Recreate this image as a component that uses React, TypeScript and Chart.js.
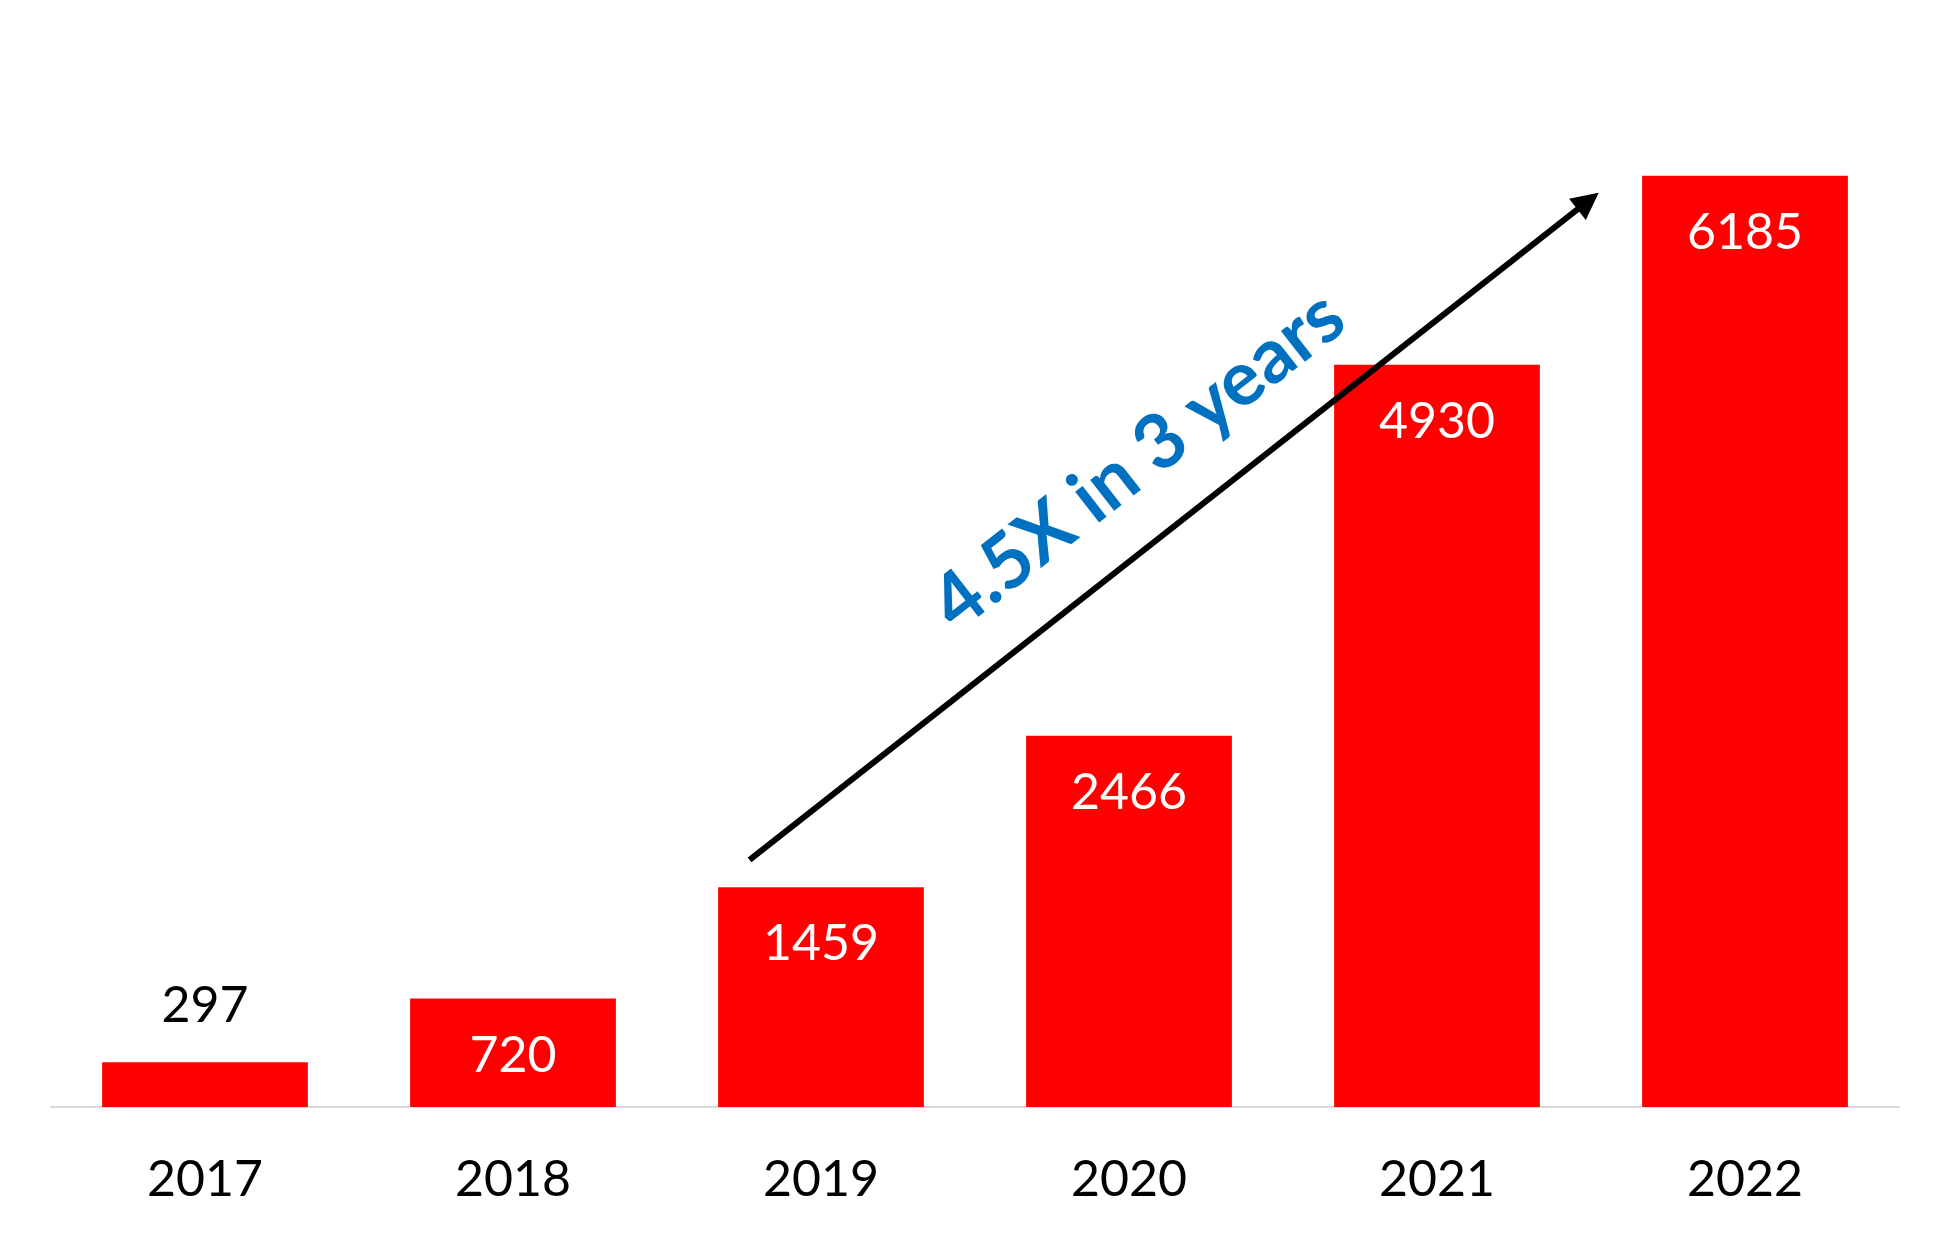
import React, { useEffect, useRef } from "react";
import { Chart, registerables } from "chart.js";

Chart.register(...registerables);

const categories = ["2017", "2018", "2019", "2020", "2021", "2022"];
const values = [297, 720, 1459, 2466, 4930, 6185];
const labelInside = [false, true, true, true, true, true];
const arrowStart = { index: 1.768, value: 1641 };
const arrowEnd = { index: 4.525, value: 6072 };
const annotationText = "4.5X in 3 years";
const annotationPos = { index: 3.03, value: 4292 };

const FONT = "Lato, 'Open Sans', sans-serif";

const overlayPlugin = {
  id: "overlay",
  afterDatasetsDraw(chart: any) {
    const ctx = chart.ctx;
    const meta = chart.getDatasetMeta(0);
    const xs = chart.scales.x;
    const ys = chart.scales.y;
    ctx.save();
    ctx.font = `50px ${FONT}`;
    ctx.textAlign = "center";
    ctx.textBaseline = "middle";
    meta.data.forEach((bar: any, i: number) => {
      const inside = labelInside[i];
      ctx.fillStyle = inside ? "#ffffff" : "#000000";
      const y = inside ? bar.y + 57 : bar.y - 56;
      ctx.fillText(String(values[i]), bar.x, y);
    });
    // arrow
    const pxPerIdx = xs.getPixelForValue(1) - xs.getPixelForValue(0);
    const toX = (idx: number) => xs.getPixelForValue(0) + idx * pxPerIdx;
    const x1 = toX(arrowStart.index);
    const y1 = ys.getPixelForValue(arrowStart.value);
    const x2 = toX(arrowEnd.index);
    const y2 = ys.getPixelForValue(arrowEnd.value);
    const ang = Math.atan2(y2 - y1, x2 - x1);
    const headLen = 27;
    const headW = 13.5;
    const bx = x2 - headLen * Math.cos(ang);
    const by = y2 - headLen * Math.sin(ang);
    ctx.strokeStyle = "#000000";
    ctx.lineWidth = 6;
    ctx.beginPath();
    ctx.moveTo(x1, y1);
    ctx.lineTo(bx + 2 * Math.cos(ang), by + 2 * Math.sin(ang));
    ctx.stroke();
    ctx.fillStyle = "#000000";
    ctx.beginPath();
    ctx.moveTo(x2, y2);
    ctx.lineTo(bx + headW * Math.sin(ang), by - headW * Math.cos(ang));
    ctx.lineTo(bx - headW * Math.sin(ang), by + headW * Math.cos(ang));
    ctx.closePath();
    ctx.fill();
    // annotation text
    const tx = toX(annotationPos.index);
    const ty = ys.getPixelForValue(annotationPos.value);
    ctx.translate(tx, ty);
    ctx.rotate((-38 * Math.PI) / 180);
    ctx.font = `bold 76px ${FONT}`;
    ctx.fillStyle = "#0070C0";
    ctx.textAlign = "center";
    ctx.textBaseline = "middle";
    ctx.fillText(annotationText, 0, 0);
    ctx.restore();
  },
};

export default function App() {
  const canvasRef = useRef<HTMLCanvasElement | null>(null);

  useEffect(() => {
    if (!canvasRef.current) return;
    const chart = new Chart(canvasRef.current, {
      type: "bar",
      data: {
        labels: categories,
        datasets: [
          {
            data: values,
            backgroundColor: "#FF0000",
            borderWidth: 0,
            categoryPercentage: 1,
            barPercentage: 0.668,
          },
        ],
      },
      options: {
        responsive: false,
        animation: false,
        layout: { padding: { left: 51, right: 53, top: 53, bottom: 0 } },
        plugins: {
          legend: { display: false },
          tooltip: { enabled: false },
        },
        scales: {
          x: {
            grid: { display: false, drawTicks: false },
            border: { display: true, color: "#d9d9d9", width: 2 },
            ticks: {
              color: "#000000",
              font: { family: FONT, size: 50 },
              padding: 43,
            },
            afterFit: (scale: any) => {
              scale.height = 135;
            },
          },
          y: {
            display: false,
            min: 0,
            max: 7000,
          },
        },
      },
      plugins: [overlayPlugin],
    });
    return () => chart.destroy();
  }, []);

  return (
    <div style={{ position: "absolute", left: 0, top: 0, width: 1952, height: 1242, background: "#ffffff" }}>
      <canvas ref={canvasRef} width={1952} height={1242} style={{ width: 1952, height: 1242 }} />
    </div>
  );
}
